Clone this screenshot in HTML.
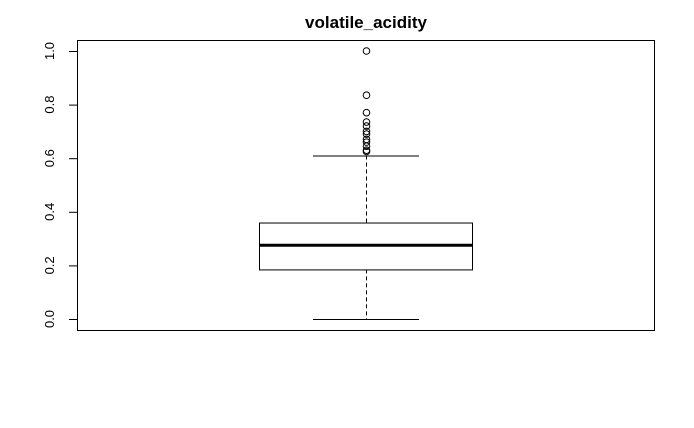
<!DOCTYPE html>
<html><head><meta charset="utf-8"><style>body{margin:0;background:#fff}svg{display:block}</style></head>
<body>
<svg id="chart" width="694" height="428" font-family="'Liberation Sans', sans-serif">
<text x="366" y="28" text-anchor="middle" font-size="17" font-weight="bold">volatile_acidity</text>
<rect x="77.5" y="40.5" width="577" height="290" fill="none" stroke="#000"/>
<g id="axis"></g>
<g id="box"></g>
</svg>
<script>
const tickValues=[0,0.2,0.4,0.6,0.8,1.0];
const tickLabels=["0.0","0.2","0.4","0.6","0.8","1.0"];
const stats=[0,0.185,0.275,0.36,0.61];
const outliers=[1.0,0.835,0.77,0.735,0.72,0.70,0.69,0.67,0.66,0.645,0.63,0.625];
const NS="http://www.w3.org/2000/svg";
function y(v){return 319-v*268;}
const cx=366;
function mk(p,tag,a){const e=document.createElementNS(NS,tag);for(const k in a)e.setAttribute(k,a[k]);p.appendChild(e);return e;}
const ax=document.getElementById('axis');
tickValues.forEach((v,i)=>{
 const l=mk(ax,'line',{x1:69,x2:77.5,y1:y(v)+.5,y2:y(v)+.5,stroke:'#000'});
 
 
 const t=mk(ax,'text',{x:0,y:0,'font-size':13,'text-anchor':'middle',transform:`translate(54,${y(v)}) rotate(-90)`});
 t.textContent=tickLabels[i];
 
 
});
const g=document.getElementById('box');
const [mn,q1,md,q3,mx]=stats;
let e;
e=mk(g,'line',{x1:cx+.5,x2:cx+.5,y1:y(q3),y2:y(mx),stroke:'#000','stroke-dasharray':'4,3'});


e=mk(g,'line',{x1:cx+.5,x2:cx+.5,y1:y(q1),y2:y(mn),stroke:'#000','stroke-dasharray':'4,3'});


e=mk(g,'line',{x1:313,x2:419,y1:y(mx)+.5,y2:y(mx)+.5,stroke:'#000'});


e=mk(g,'line',{x1:313,x2:419,y1:y(mn)+.5,y2:y(mn)+.5,stroke:'#000'});


e=mk(g,'rect',{x:259.5,y:y(q3)+.5,width:213,height:y(q1)-y(q3),fill:'#fff',stroke:'#000'});


e=mk(g,'line',{x1:259,x2:473,y1:y(md),y2:y(md),stroke:'#000','stroke-width':3});


outliers.forEach(v=>{
 const c=mk(g,'circle',{cx:cx+.5,cy:y(v),r:3.3,fill:'none',stroke:'#000'});
 
 
});
</script>
</body></html>
